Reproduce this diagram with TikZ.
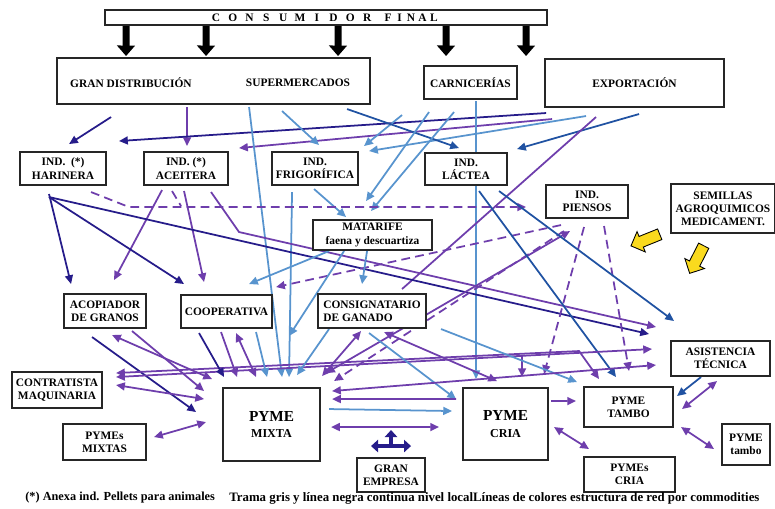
\documentclass[tikz,border=0pt]{standalone}
\usepackage{fontspec}
\setmainfont{Liberation Serif}
\usepackage{tikz}
\usetikzlibrary{arrows.meta,calc,shapes.arrows,backgrounds}
\definecolor{redpur}{RGB}{110,62,172}
\definecolor{rednavy}{RGB}{38,28,138}
\definecolor{redblue}{RGB}{32,82,162}
\definecolor{redlight}{RGB}{88,148,206}
\definecolor{semyel}{RGB}{250,218,30}
\tikzset{
  ubox/.style={draw=black!85, line width=1.1pt, fill=white, inner sep=1pt, align=center,
    font=\fontsize{6.5}{7.5}\selectfont\bfseries},
  lbl/.style={inner sep=0pt, font=\fontsize{6.5}{7.5}\selectfont\bfseries},
  lettr/.style={inner sep=0pt, font=\fontsize{6.5}{7.5}\selectfont\bfseries},
  foot/.style={inner sep=0pt, anchor=west, font=\fontsize{7}{8}\selectfont\bfseries},
  lnk/.style={line width=1pt, ->},
  dlnk/.style={line width=1pt, <->},
  bare/.style={line width=1pt},
  dsh/.style={dash pattern=on 5pt off 3pt},
  blk/.style={line width=4pt, -{Triangle[length=6pt,width=10pt]}},
  gemp/.style={rednavy, line width=2.2pt, -{Triangle[length=4pt,width=7pt]}},
  yarr/.style={single arrow, draw=black, fill=semyel, line width=0.5pt, inner sep=3pt,
    minimum height=0.62cm, single arrow head extend=3pt}
}
\begin{document}
\begin{tikzpicture}[x=0.02cm, y=-0.02cm, >={Triangle[length=5pt,width=4.5pt]}]
\useasboundingbox (0,0) rectangle (775,508);

% consumidor final
\node[ubox, minimum width=8.84cm, minimum height=0.3cm] (cf) at (326,17.5) {};
\foreach \l [count=\i from 0] in {C,O,N,S,U,M,I,D,O,R}
    \node[lettr] (cfa\i) at (216+16.8*\i,18) {\l};
\foreach \l [count=\i from 0] in {F,I,N,A,L}
    \node[lettr] (cfb\i) at (388+11.5*\i,18) {\l};

% canales
\node[ubox, minimum width=6.26cm, minimum height=0.92cm] (gd) at (213.5,81) {};
\node[lbl] (gdt) at (131,83) {GRAN DISTRIBUCIÓN};
\node[lbl] (sup) at (298,83) {SUPERMERCADOS};
\node[ubox, minimum width=1.86cm, minimum height=0.66cm] (car) at (470.5,82.5) {CARNICERÍAS};
\node[ubox, minimum width=3.58cm, minimum height=0.96cm] (exp) at (634.5,83) {EXPORTACIÓN};

% industrias
\node[ubox, minimum width=1.72cm, minimum height=0.66cm] (har) at (63,168.5) {IND.\ \ (*)\\HARINERA};
\node[ubox, minimum width=1.68cm, minimum height=0.66cm] (ace) at (186,168.5) {IND. (*)\\ACEITERA};
\node[ubox, minimum width=1.72cm, minimum height=0.66cm] (fri) at (315,168.5) {IND.\\FRIGORÍFICA};
\node[ubox, minimum width=1.64cm, minimum height=0.64cm] (lac) at (466,169) {IND.\\LÁCTEA};
\node[ubox, minimum width=1.64cm, minimum height=0.66cm] (pie) at (587,201.5) {IND.\\PIENSOS};
\node[ubox, minimum width=2.08cm, minimum height=0.98cm] (sem) at (723,208.5) {SEMILLAS\\AGROQUIMICOS\\MEDICAMENT.};
\node[ubox, minimum width=2.38cm, minimum height=0.6cm] (mat) at (372.5,235) {MATARIFE\\faena y descuartiza};

% intermediarios
\node[ubox, minimum width=1.64cm, minimum height=0.68cm] (aco) at (105,311) {ACOPIADOR\\DE GRANOS};
\node[ubox, minimum width=1.82cm, minimum height=0.66cm] (coo) at (226.5,311.5) {COOPERATIVA};
\node[ubox, minimum width=2.16cm, minimum height=0.68cm, align=left] (con) at (372,311) {CONSIGNATARIO\\DE GANADO};
\node[ubox, minimum width=1.98cm, minimum height=0.7cm] (asi) at (720.5,358.5) {ASISTENCIA\\TÉCNICA};
\node[ubox, minimum width=1.8cm, minimum height=0.72cm] (ctr) at (57,390) {CONTRATISTA\\MAQUINARIA};

% pymes
\node[ubox, minimum width=1.66cm, minimum height=0.72cm] (pmx) at (104.5,442) {PYMEs\\MIXTAS};
\node[ubox, minimum width=1.94cm, minimum height=1.46cm] (pm) at (271.5,424.5) {{\fontsize{8.7}{9}\selectfont PYME}\\[2pt]{\fontsize{6.9}{7.5}\selectfont MIXTA}};
\node[ubox, minimum width=1.7cm, minimum height=1.44cm] (pc) at (505.5,424) {{\fontsize{8.7}{9}\selectfont PYME}\\[2pt]{\fontsize{6.9}{7.5}\selectfont CRIA}};
\node[ubox, minimum width=1.78cm, minimum height=0.8cm] (pt) at (628.5,407) {PYME\\TAMBO};
\node[ubox, minimum width=0.96cm, minimum height=0.82cm] (pt2) at (746,444.5) {PYME\\tambo};
\node[ubox, minimum width=1.82cm, minimum height=0.7cm] (pcr) at (629.5,474.5) {PYMEs\\CRIA};
\node[ubox, minimum width=1.36cm, minimum height=0.68cm] (ge) at (391,475) {GRAN\\EMPRESA};

% flechas amarillas
\node[yarr, rotate=202] (ya) at (648,239) {};
\node[yarr, rotate=243] (yb) at (698,257) {};

% consumo
\foreach \x in {127,207,339}
    \draw[blk] ($(cf.north west)+(\x-105,17)$) -- ($(gd.north west)+(\x-57,-1)$);
\draw[blk] ($(cf.north west)+(342,17)$) -- ($(car.north west)+(23,-9)$);
\draw[blk] ($(cf.north west)+(422,17)$) -- ($(exp.north west)+(-18,-2)$);

% gran empresa
\draw[gemp] ($(ge.north west)+(35,-9)$) -- ($(ge.north west)+(35,-27)$);
\draw[gemp, <->, >={Triangle[length=4pt,width=7pt]}] ($(ge.north west)+(15,-11)$) -- ($(ge.north west)+(55,-11)$);

\begin{scope}[on background layer]
% canales -> industrias
\draw[lnk, rednavy] ($(gd.north west)+(55,60)$) -- ($(har.north west)+(50,-7)$);
\draw[lnk, redpur] ($(gd.north west)+(131,50)$) -- ($(ace.north west)+(44,-5)$);
\draw[lnk, rednavy] ($(exp.north west)+(2,55)$) -- ($(har.north west)+(100,-10)$);
\draw[lnk, redpur] ($(exp.north west)+(8,61)$) -- ($(ace.north west)+(96,-3)$);
\draw[lnk, redlight] ($(gd.north west)+(226,54)$) -- ($(fri.north west)+(48,-6)$);
\draw[lnk, redlight] ($(car.north west)+(-21,50)$) -- ($(fri.north west)+(93,-5)$);
\draw[lnk, redlight] ($(exp.north west)+(42,58)$) -- ($(fri.north west)+(98,0)$);
\draw[lnk, redblue] ($(gd.north west)+(291,52)$) -- ($(lac.north west)+(35,-4)$);
\draw[lnk, redblue] ($(exp.north west)+(95,56)$) -- ($(lac.north west)+(93,-3)$);
\draw[lnk, redlight] ($(car.north west)+(6,47)$) -- ($(mat.north west)+(54,-18)$);
\draw[lnk, redlight] ($(car.north west)+(31,47)$) -- ($(mat.north west)+(59,-8)$);
\draw[lnk, redlight] ($(gd.north west)+(193,50)$) -- ($(pm.north west)+(60,-10)$);
\draw[lnk, redlight] ($(fri.north west)+(21,41)$) -- ($(pm.north west)+(67,-10)$);
\draw[lnk, redlight] ($(fri.north west)+(43,38)$) -- ($(mat.north west)+(34,-2)$);
\draw[lnk, redlight] ($(car.north west)+(53,36)$) -- ($(pc.north west)+(14,-8)$);
\draw[bare, redpur] ($(con.north west)+(85,-4)$) -- ($(exp.north west)+(52,59)$);

% industrias -> intermediarios
\draw[lnk, rednavy] ($(har.north west)+(30,43)$) -- ($(aco.north west)+(8,-9)$);
\draw[lnk, redpur] ($(ace.north west)+(19,39)$) -- ($(aco.north west)+(51,-13)$);
\draw[lnk, rednavy] ($(har.north west)+(30,46)$) -- ($(coo.north west)+(4,-10)$);
\draw[lnk, redpur] ($(ace.north west)+(41,40)$) -- ($(coo.north west)+(24,-12)$);
\draw[lnk, rednavy] ($(har.north west)+(30,46)$) -- ($(asi.north west)+(-21,-6)$);
\draw[lnk, redpur] ($(ace.north west)+(68,41)$) -- ($(ace.north west)+(96,81)$) -- ($(asi.north west)+(-14,-13)$);
\draw[lnk, redpur, dsh] ($(har.north west)+(72,41)$) -- ($(har.north west)+(110,56)$) -- ($(pie.north west)+(-19,23)$);
\draw[bare, redpur, dsh] ($(ace.north west)+(29,40)$) -- ($(ace.north west)+(38,55)$);
\draw[lnk, redpur, dsh] ($(pie.north west)+(16,41)$) -- ($(coo.north west)+(96,-7)$);
\draw[lnk, redpur, dsh] ($(pie.north west)+(19,47)$) -- ($(pm.north west)+(112,-6)$);
\draw[dlnk, redpur] ($(pm.north west)+(104,-14)$) -- ($(pie.north west)+(25,47)$);
\draw[lnk, redpur, dsh] ($(pie.north west)+(39,43)$) -- ($(pc.north west)+(82,-13)$);
\draw[lnk, redpur, dsh] ($(pie.north west)+(59,42)$) -- ($(pt.north west)+(46,-15)$);
\draw[lnk, redblue] ($(lac.north west)+(75,39)$) -- ($(asi.north west)+(4,-19)$);
\draw[lnk, redblue] ($(lac.north west)+(55,39)$) -- ($(pt.north west)+(33,-9)$);

% intermediarios -> pymes
\draw[lnk, rednavy] ($(aco.north west)+(29,44)$) -- ($(pm.north west)+(-26,25)$);
\draw[dlnk, redpur] ($(aco.north west)+(49,42)$) -- ($(pm.north west)+(-10,-8)$);
\draw[lnk, redpur] ($(aco.north west)+(69,38)$) -- ($(pm.north west)+(-18,4)$);
\draw[dlnk, redpur] ($(ctr.north west)+(105,14)$) -- ($(pm.north west)+(-18,12)$);
\draw[dlnk, redpur] ($(ctr.north west)+(105,2)$) -- ($(pt.north west)+(-4,-35)$) -- ($(pt.north west)+(16,-7)$);
\draw[lnk, redpur] ($(pc.north west)+(60,-31)$) -- ($(pc.north west)+(60,-10)$);
\draw[dlnk, redpur] ($(ctr.north west)+(105,6)$) -- ($(asi.north west)+(-18,9)$);
\draw[dlnk, redpur] ($(pmx.north west)+(92,14)$) -- ($(pm.north west)+(-16,35)$);
\draw[lnk, rednavy] ($(coo.north west)+(19,39)$) -- ($(pm.north west)+(2,-10)$);
\draw[lnk, redpur] ($(coo.north west)+(41,38)$) -- ($(pm.north west)+(15,-10)$);
\draw[dlnk, redpur] ($(coo.north west)+(56,39)$) -- ($(pm.north west)+(34,-10)$);
\draw[lnk, redlight] ($(coo.north west)+(76,38)$) -- ($(pm.north west)+(45,-10)$);
\draw[lnk, redlight] ($(mat.north west)+(32,32)$) -- ($(coo.north west)+(109,42)$);
\draw[lnk, redlight] ($(mat.north west)+(17,32)$) -- ($(coo.north west)+(69,-10)$);
\draw[lnk, redlight] ($(mat.north west)+(55,32)$) -- ($(con.north west)+(45,-9)$);
\draw[lnk, redlight] ($(con.north west)+(12,36)$) -- ($(pm.north west)+(75,-12)$);
\draw[dlnk, redpur] ($(con.north west)+(44,38)$) -- ($(pm.north west)+(100,-11)$);
\draw[dlnk, redpur] ($(con.north west)+(67,39)$) -- ($(pc.north west)+(35,-6)$);
\draw[lnk, redlight] ($(con.north west)+(52,40)$) -- ($(pc.north west)+(-6,12)$);
\draw[lnk, redlight] ($(con.north west)+(124,36)$) -- ($(pt.north west)+(-6,-4)$);

% entre pymes
\draw[dlnk, redpur] ($(pm.north west)+(110,4)$) -- ($(asi.north west)+(-14,25)$);
\draw[lnk, redpur] ($(pc.north west)+(-6,12)$) -- ($(pm.north west)+(110,12)$);
\draw[lnk, redlight] ($(pm.north west)+(107,22)$) -- ($(pc.north west)+(-10,24)$);
\draw[dlnk, redpur] ($(pm.north west)+(109,40)$) -- ($(pc.north west)+(-23,40)$);
\draw[lnk, redpur] ($(pc.north west)+(89,14)$) -- ($(pt.north west)+(-7,15)$);
\draw[dlnk, redpur] ($(pc.north west)+(92,40)$) -- ($(pcr.north west)+(6,-7)$);
\draw[lnk, redblue] ($(asi.north west)+(31,37)$) -- ($(pt.north west)+(94,10)$);
\draw[dlnk, redpur] ($(pt.north west)+(99,23)$) -- ($(asi.north west)+(47,41)$);
\draw[dlnk, redpur] ($(pt.north west)+(98,41)$) -- ($(pt2.north west)+(-7,26)$);
\end{scope}

% notas
\node[foot] (fn1) at (25,498) {(*) Anexa ind. Pellets para animales};
\node[foot, font=\fontsize{7.3}{8}\selectfont\bfseries] (fn2) at (229,498) {Trama gris y línea negra continua nivel localLíneas de colores estructura de red por commodities};
\end{tikzpicture}
\end{document}
